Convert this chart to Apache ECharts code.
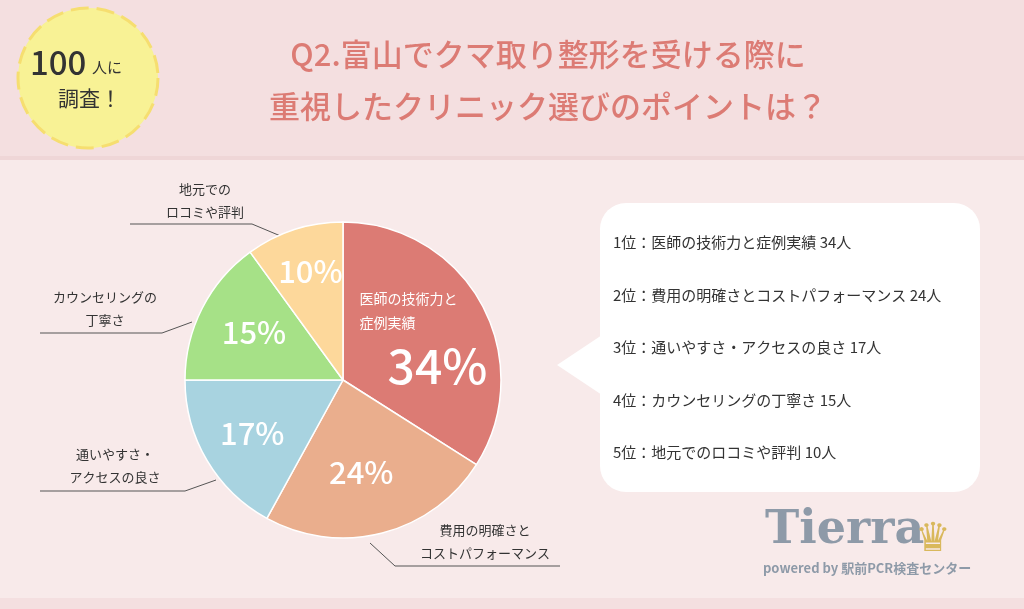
<!DOCTYPE html>
<html><head><meta charset="utf-8">
<script src="https://cdn.jsdelivr.net/npm/echarts@6/dist/echarts.min.js"></script>
<style>html,body{margin:0;padding:0;background:#f8eaea}#main{width:1024px;height:609px}</style>
</head><body><div id="main"></div>
<script>
var names = ['医師の技術力と症例実績','費用の明確さとコストパフォーマンス','通いやすさ・アクセスの良さ','カウンセリングの丁寧さ','地元でのロコミや評判'];
var counts = [34, 24, 17, 15, 10];
var colors = ['#dc7b74','#eaae8d','#a8d3e0','#a6e187','#fdd89b'];

var font = '"Noto Sans CJK JP", sans-serif';
var myChart = echarts.init(document.getElementById('main'));

var pieData = names.map(function(n, i){ return {name: n, value: counts[i], itemStyle: {color: colors[i]}}; });
var labelData = names.map(function(n, i){ return {name: n, value: counts[i]}; });

// ranking lines inside the bubble
var rankTexts = names.map(function(n, i){
  return {type: 'text', left: 613, top: 235 + i * 52.5,
    style: {text: (i + 1) + '位：' + n + ' ' + counts[i] + '人', font: '15px ' + font, fill: '#333'}};
});

function outer(lines, tx, ty, pts){
  return [
    {type: 'text', style: {x: tx, y: ty, text: lines, font: '13px ' + font, fill: '#333', align: 'center', lineHeight: 23}},
    {type: 'polyline', shape: {points: pts}, style: {stroke: '#555', lineWidth: 1, fill: null}}
  ];
}

var option = {
  backgroundColor: '#f8eaea',
  graphic: [
    {type: 'rect', shape: {x: 0, y: 0, width: 1024, height: 156}, style: {fill: '#f4dfe0'}, z: -10},
    {type: 'rect', shape: {x: 0, y: 156, width: 1024, height: 4}, style: {fill: '#efd6d7'}, z: -10},
    {type: 'rect', shape: {x: 0, y: 598, width: 1024, height: 11}, style: {fill: '#f4dfe0'}, z: -10},
    {type: 'circle', shape: {cx: 88, cy: 78, r: 70}, style: {fill: '#f8f295', stroke: '#f6de70', lineWidth: 3, lineDash: [18, 8]}},
    {type: 'text', style: {x: 30, y: 46, text: '100', font: '500 33px ' + font, fill: '#333'}},
    {type: 'text', style: {x: 92, y: 60, text: '人に', font: '15px ' + font, fill: '#333'}},
    {type: 'text', style: {x: 58, y: 88, text: '調査！', font: '21px ' + font, fill: '#333'}},
    {type: 'text', style: {x: 548, y: 28, text: 'Q2.富山でクマ取り整形を受ける際に\n重視したクリニック選びのポイントは？', font: '500 31px ' + font, fill: '#dc7b74', align: 'center', lineHeight: 52}},
    {type: 'rect', shape: {x: 600, y: 203, width: 380, height: 289, r: 26}, style: {fill: '#fff'}},
    {type: 'polygon', shape: {points: [[557, 365], [602, 335], [602, 395]]}, style: {fill: '#fff'}},
    {type: 'text', style: {x: 765, y: 508, text: 'Tierra', font: 'bold 46px "DejaVu Serif", serif', fill: '#8e9aa8'}},
    {type: 'text', style: {x: 915, y: 520, text: '♛', font: '40px sans-serif', fill: '#d9b85c'}},
    {type: 'text', style: {x: 763, y: 562, text: 'powered by 駅前PCR検査センター', font: 'bold 13px ' + font, fill: '#8e9aa8'}}
  ].concat(rankTexts)
   .concat(outer('地元での\nロコミや評判', 205, 178, [[130, 224], [252, 224], [283, 237]]))
   .concat(outer('カウンセリングの\n丁寧さ', 105, 286, [[40, 333], [162, 333], [192, 322]]))
   .concat(outer('通いやすさ・\nアクセスの良さ', 115, 443, [[40, 491], [185, 491], [216, 480]]))
   .concat(outer('費用の明確さと\nコストパフォーマンス', 485, 519, [[370, 543], [395, 566], [560, 566]])),
  series: [{
    type: 'pie', center: [343, 380], radius: [0, 158], startAngle: 90, clockwise: true,
    silent: true, label: {show: false}, labelLine: {show: false},
    itemStyle: {borderColor: '#fff', borderWidth: 1.5},
    data: pieData
  }, {
    type: 'pie', center: [343, 380], radius: [0, 205], startAngle: 90, clockwise: true, silent: true,
    itemStyle: {color: 'rgba(0,0,0,0)'},
    label: {
      position: 'inside', color: '#fff', fontFamily: font,
      formatter: function(p){
        if (p.dataIndex === 0) return '{s|医師の技術力と\n症例実績}\n{b|' + p.value + '%}';
        return '{m|' + p.value + '%}';
      },
      rich: {
        s: {fontSize: 14, lineHeight: 24, color: '#fff', fontFamily: font, padding: [0, 20, 14, 0], align: 'left'},
        b: {fontSize: 48, fontWeight: 500, color: '#fff', fontFamily: font, padding: [0, 0, 0, 28]},
        m: {fontSize: 31, fontWeight: 500, color: '#fff', fontFamily: font}
      }
    },
    labelLayout: function(p){
      if (p.dataIndex === 0) return {dx: -12, dy: 13};
      if (p.dataIndex === 1) return {dx: -8, dy: -10};
      if (p.dataIndex === 3) return {dx: 5, dy: 0};
      if (p.dataIndex === 4) return {dx: 0, dy: -8};
      return {};
    },
    data: labelData
  }]
};
myChart.setOption(option);
</script></body></html>
